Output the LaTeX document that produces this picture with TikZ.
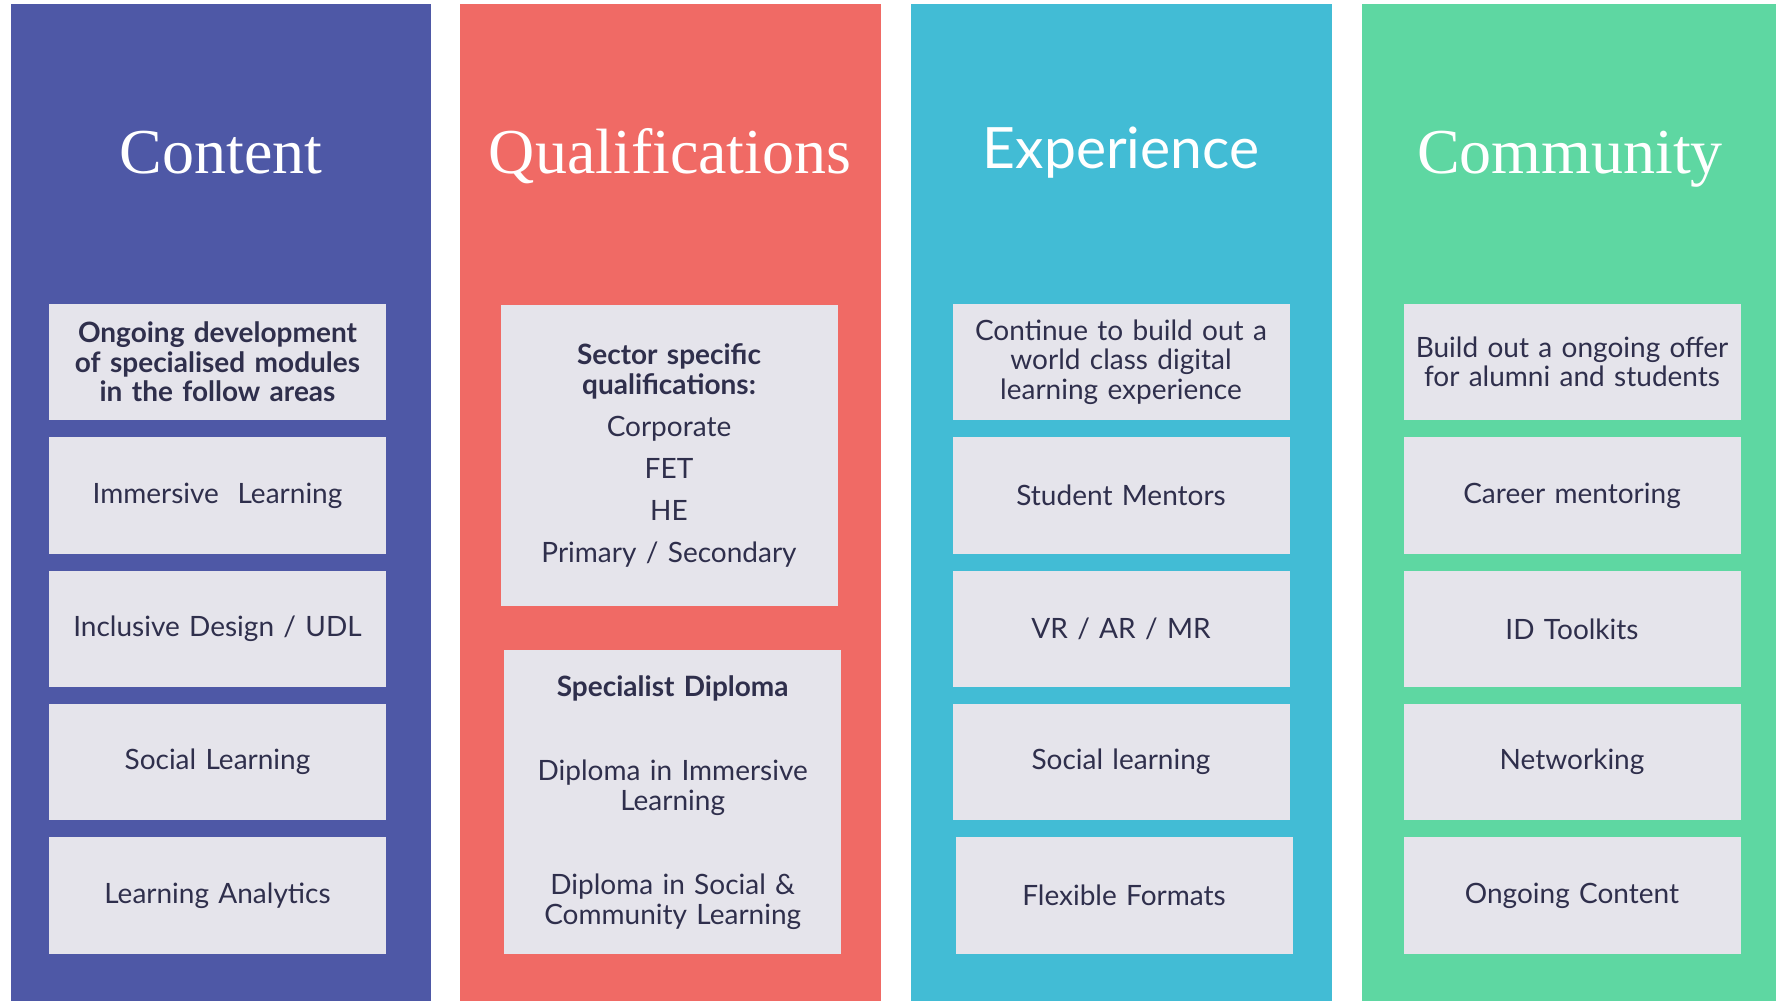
\documentclass[tikz,border=0pt]{standalone}
\usepackage{fontspec}
\setmainfont{Liberation Serif}
\setsansfont{Lato}
\usetikzlibrary{positioning}

\definecolor{contentblue}{HTML}{4E58A6}
\definecolor{qualred}{HTML}{F06A65}
\definecolor{expcyan}{HTML}{42BCD5}
\definecolor{commgreen}{HTML}{5ED7A2}
\definecolor{boxgray}{HTML}{E5E4EB}
\definecolor{inkblue}{HTML}{2F2F4C}

\begin{document}
\begin{tikzpicture}[x=1pt,y=1pt,
	pillar/.style={rectangle,inner sep=0pt,minimum width=420pt,minimum height=997pt,anchor=north west},
	heading/.style={text=white,anchor=base,inner sep=0pt,font=\fontsize{64}{64}\selectfont},
	item/.style={rectangle,fill=boxgray,text=inkblue,inner sep=0pt,minimum width=337pt,minimum height=116.5pt,text width=334pt,align=center,font=\sffamily\fontsize{28}{29.5}\selectfont},
	node distance=16.5pt]
	\useasboundingbox (0,0) rectangle (1776,-1001);
	\fill[white] (0,0) rectangle (1776,-1001);
	\coordinate (titleline) at (0,-173);
	% the four pillars
	\node[pillar,fill=contentblue](content) at (11,-4){};
	\node[pillar,fill=qualred,minimum width=421pt](qual)[right = 28pt of content]{};
	\node[pillar,fill=expcyan,minimum width=421pt](exp)[right = 29.5pt of qual]{};
	\node[pillar,fill=commgreen,minimum width=415pt](comm)[right = 30.5pt of exp]{};
	\node[heading](contenttitle) at (content.north |- titleline){Content};
	\node[heading](qualtitle) at (qual.north |- titleline){Qualifications};
	\node[heading,font=\sffamily\fontsize{57}{57}\selectfont,yshift=5pt](exptitle) at (exp.north |- titleline){Experience};
	\node[heading](commtitle) at (comm.north |- titleline){Community};
	% content
	\node[item](c1) at (217.5,-362){\textbf{Ongoing development\\of specialised modules\\in the follow areas}};
	\node[item](c2)[below = of c1]{Immersive\ \ Learning};
	\node[item](c3)[below = of c2]{Inclusive Design / UDL};
	\node[item](c4)[below = of c3]{Social Learning};
	\node[item](c5)[below = of c4]{Learning Analytics};
	% qualifications
	\node[item,minimum height=301pt](q1) at (669,-455.5){\textbf{Sector specific\\qualifications:}\\[12.5pt]Corporate\\[12.5pt]FET\\[12.5pt]HE\\[12.5pt]Primary / Secondary};
	\node[item,minimum height=304pt,xshift=3.7pt](q2)[below = 44pt of q1]{\textbf{Specialist Diploma}\\[54.5pt]Diploma in Immersive\\Learning\\[55pt]Diploma in Social \&\\Community Learning};
	% experience
	\node[item](e1) at (1121,-362){Continue to build out a\\world class digital\\learning experience};
	\node[item](e2)[below = of e1]{Student Mentors};
	\node[item](e3)[below = of e2]{VR / AR / MR};
	\node[item](e4)[below = of e3]{Social learning};
	\node[item,xshift=3pt](e5)[below = of e4]{Flexible Formats};
	% community
	\node[item](m1) at (1572,-362){Build out a ongoing offer\\for alumni and students};
	\node[item](m2)[below = of m1]{Career mentoring};
	\node[item](m3)[below = of m2]{ID Toolkits};
	\node[item](m4)[below = of m3]{Networking};
	\node[item](m5)[below = of m4]{Ongoing Content};
\end{tikzpicture}
\end{document}
